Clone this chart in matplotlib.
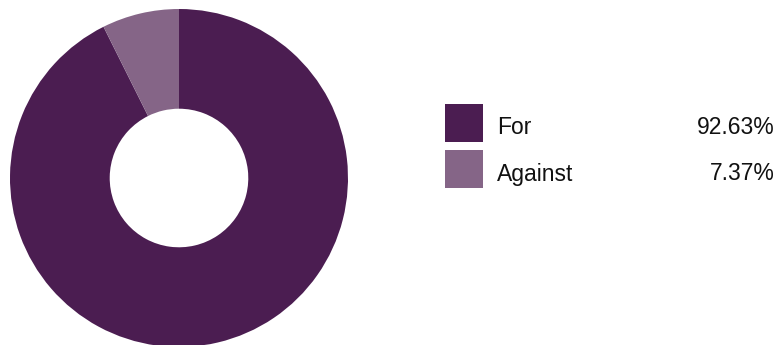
import matplotlib
matplotlib.use("Agg")
import matplotlib.pyplot as plt
from matplotlib.patches import Rectangle

categories = ["For", "Against"]
values = [92.63, 7.37]
value_labels = ["92.63%", "7.37%"]
colors = ["#4B1D51", "#856587"]

plt.rcParams['font.family'] = ['Liberation Sans', 'DejaVu Sans']

W, H = 782, 345
fig = plt.figure(figsize=(W / 100, H / 100), dpi=100)

# Donut
cx, cy, r = 179, 178, 169
ax = fig.add_axes([(cx - r) / W, (H - cy - r) / H, 2 * r / W, 2 * r / H])
ax.pie(values, colors=colors, startangle=90, counterclock=False,
       radius=1, wedgeprops=dict(width=0.59, linewidth=0))
ax.set_xlim(-1, 1)
ax.set_ylim(-1, 1)
ax.set_aspect('equal')
ax.axis('off')

# Legend
lax = fig.add_axes([0, 0, 1, 1])
lax.set_xlim(0, W)
lax.set_ylim(H, 0)
lax.axis('off')
top0, step, sq = 104, 46, 38
for i, (cat, lab, col) in enumerate(zip(categories, value_labels, colors)):
    y = top0 + i * step
    lax.add_patch(Rectangle((445, y), sq, sq, facecolor=col, edgecolor='none'))
    lax.text(497, y + 30.5, cat, fontsize=16.5, va='baseline', ha='left', color='#111111')
    lax.text(775, y + 30.5, lab, fontsize=16.5, va='baseline', ha='right', color='#111111')

fig.savefig("out.png", dpi=100)
